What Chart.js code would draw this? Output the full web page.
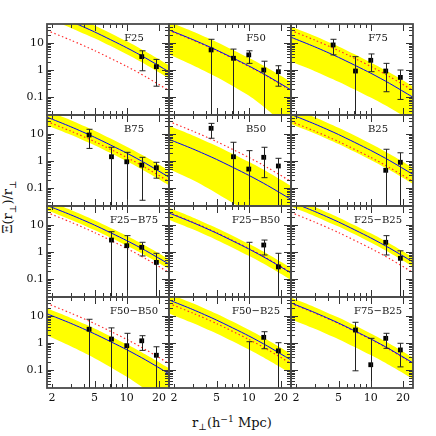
<!DOCTYPE html>
<html>
<head>
<meta charset="utf-8">
<script src="https://cdn.jsdelivr.net/npm/chart.js@4.4.0/dist/chart.umd.min.js"></script>
<style>
  html, body { margin: 0; padding: 0; background: #fff; }
  #fig { position: relative; width: 436px; height: 436px; overflow: hidden; font-family: 'DejaVu Serif', serif; color: #111; }
  #fig canvas { position: absolute; }
  .ytitle { position: absolute; left: 9px; top: 207px; transform: translate(-50%, -50%) rotate(-90deg); font-size: 13px; white-space: nowrap; }
  .xtitle { position: absolute; left: 232px; top: 423px; transform: translate(-50%, -50%); font-size: 13px; white-space: nowrap; }
  sub, sup { font-size: 70%; }
</style>
</head>
<body>
<div id="fig">
  <div class="ytitle">Ξ(r<sub>⊥</sub>)/r<sub>⊥</sub></div>
  <div class="xtitle">r<sub>⊥</sub>(h<sup>−1</sup> Mpc)</div>
</div>
<script>
const panelNames = ['F25', 'F50', 'F75', 'B75', 'B50', 'B25',
  'F25−B75', 'F25−B50', 'F25−B25', 'F50−B50', 'F50−B25', 'F75−B25'];

// model curves sampled at these separations
const xGrid = [1.8, 3, 5, 10, 15, 24.8];

const fitModel = [
  [141, 62.4, 25.5, 6.59, 2.76, 0.849],
  [30.2, 13.3, 5.44, 1.41, 0.590, 0.182],
  [16.2, 7.16, 2.92, 0.757, 0.317, 0.0975],
  [41.7, 18.4, 7.52, 1.95, 0.815, 0.251],
  [6.31, 2.79, 1.14, 0.294, 0.123, 0.0379],
  [52.5, 23.2, 9.46, 2.45, 1.03, 0.316],
  [52.5, 23.6, 9.84, 2.62, 1.12, 0.355],
  [27.5, 12.2, 4.97, 1.29, 0.538, 0.166],
  [70.8, 31.3, 12.8, 3.30, 1.38, 0.426],
  [12.0, 5.31, 2.17, 0.561, 0.235, 0.0723],
  [38.9, 17.2, 7.01, 1.82, 0.760, 0.234],
  [30.2, 13.3, 5.44, 1.41, 0.590, 0.182]
];

const bandHigh = [
  [245, 108, 44.3, 11.5, 4.80, 1.48],
  [60.3, 26.6, 10.9, 2.81, 1.18, 0.362],
  [40.7, 18.0, 7.35, 1.90, 0.796, 0.245],
  [72.4, 32.0, 13.1, 3.38, 1.42, 0.436],
  [20.0, 8.81, 3.60, 0.931, 0.390, 0.120],
  [93.3, 41.2, 16.8, 4.36, 1.82, 0.561],
  [79.4, 35.7, 14.9, 3.97, 1.69, 0.537],
  [42.7, 18.8, 7.69, 1.99, 0.834, 0.256],
  [105, 46.2, 18.9, 4.89, 2.05, 0.630],
  [19.1, 8.41, 3.44, 0.889, 0.372, 0.115],
  [66.1, 29.2, 11.9, 3.08, 1.29, 0.397],
  [47.9, 21.1, 8.63, 2.23, 0.935, 0.288]
];

const bandLow = [
  [81.3, 35.9, 14.7, 3.79, 1.59, 0.489],
  [3.80, 1.50, 0.545, 0.112, 0.0332, 0.00574],
  [2.04, 0.902, 0.368, 0.0953, 0.0399, 0.0123],
  [20.9, 9.23, 3.77, 0.975, 0.408, 0.126],
  [0.501, 0.197, 0.064, 0.0117, 0.0031, 0.00048],
  [23.4, 10.4, 4.23, 1.09, 0.458, 0.141],
  [34.7, 15.6, 6.50, 1.73, 0.740, 0.235],
  [15.5, 6.84, 2.79, 0.723, 0.303, 0.0931],
  [47.9, 21.1, 8.63, 2.23, 0.935, 0.288],
  [1.91, 0.750, 0.273, 0.0561, 0.0187, 0.00406],
  [12.3, 5.43, 2.22, 0.574, 0.240, 0.0740],
  [7.59, 3.35, 1.37, 0.354, 0.148, 0.0456]
];

// same dotted reference curve in every panel
const referenceModel = [28.8, 12.7, 5.20, 1.35, 0.564, 0.173];

const pointX = [
  [13.8, 18.9],
  [4.45, 7.2, 10.0, 13.8, 18.9],
  [4.45, 7.2, 10.0, 13.8, 18.9],
  [4.45, 7.2, 10.0, 13.8, 18.9],
  [4.45, 7.2, 10.0, 13.8, 18.9],
  [13.8, 18.9],
  [7.2, 10.0, 13.8, 18.9],
  [10.0, 13.8, 18.9],
  [13.8, 18.9],
  [4.45, 7.2, 10.0, 13.8, 18.9],
  [10.0, 13.8, 18.9],
  [7.2, 10.0, 13.8, 18.9]
];

const pointY = [
  [3.1, 1.32],
  [5.5, 2.7, 3.6, 0.99, 0.86],
  [8.4, 0.91, 2.27, 0.91, 0.53],
  [9.1, 1.43, 0.93, 0.70, 0.56],
  [16.1, 1.43, 0.5, 1.36, 0.65],
  [0.45, 0.89],
  [2.75, 1.7, 1.48, 0.41],
  [0.005, 1.8, 0.28],
  [2.27, 0.58],
  [3.2, 1.39, 0.79, 1.2, 0.35],
  [0.005, 1.61, 0.51],
  [3.0, 0.156, 1.48, 0.55]
];

const errLow = [
  [0.93, 0.25],
  [0.001, 0.001, 1.75, 0.001, 0.25],
  [3.6, 0.001, 0.86, 0.156, 0.081],
  [2.9, 0.001, 0.001, 0.035, 0.23],
  [6.9, 0.001, 0.001, 0.24, 0.001],
  [0.001, 0.001],
  [0.001, 0.001, 0.71, 0.001],
  [0.001, 0.77, 0.001],
  [0.77, 0.001],
  [0.001, 0.001, 0.001, 0.53, 0.001],
  [0.001, 0.61, 0.001],
  [0.093, 0.001, 0.63, 0.13]
];

const errHigh = [
  [5.1, 2.45],
  [13.6, 5.9, 5.1, 2.1, 1.43],
  [13.6, 3.1, 3.9, 1.75, 0.99],
  [14.8, 3.2, 2.08, 1.36, 0.89],
  [24.5, 4.9, 2.4, 3.2, 1.25],
  [2.7, 2.0],
  [5.6, 4.0, 2.27, 0.89],
  [2.27, 2.75, 0.89],
  [4.0, 1.1],
  [7.5, 3.6, 2.27, 1.85, 0.72],
  [1.11, 2.6, 1.02],
  [5.8, 1.48, 2.27, 0.97]
];

const xRange = [1.8, 24.8];
const yRange = [0.0215, 50];
const xTickLabels = [2, 5, 10, 20];
const yTickLabels = [0.1, 1, 10];
const xMajorTicks = [5, 10, 20];
const xMinorTicks = [2, 3, 4, 6, 7, 8, 9];
const yMajorTicks = [0.1, 1, 10];
const yMinorTicks = [0.03, 0.04, 0.05, 0.06, 0.07, 0.08, 0.09, 0.2, 0.3, 0.4, 0.5, 0.6, 0.7, 0.8, 0.9,
  2, 3, 4, 5, 6, 7, 8, 9, 20, 30, 40];

const colLeft = [47, 169, 291];
const rowTop = [24, 115, 206, 297];
const plotW = 122;
const plotH = 91;
const yAxisW = 47;
const xAxisH = 26;

Chart.defaults.font.family = "'DejaVu Serif', serif";
Chart.defaults.font.size = 10;
Chart.defaults.color = '#111';

const errorBars = {
  id: 'errorBars',
  afterDatasetsDraw(chart, args, opts) {
    const { ctx, chartArea: a, scales: { x, y } } = chart;
    ctx.save();
    ctx.beginPath();
    ctx.rect(a.left, a.top, a.width, a.height);
    ctx.clip();
    ctx.strokeStyle = '#222';
    ctx.lineWidth = 1;
    opts.xs.forEach((xv, k) => {
      const px = Math.round(x.getPixelForValue(xv)) + 0.5;
      const top = y.getPixelForValue(opts.hi[k]);
      const bot = y.getPixelForValue(opts.lo[k]);
      ctx.beginPath();
      ctx.moveTo(px, top);
      ctx.lineTo(px, bot);
      ctx.moveTo(px - 3, top);
      ctx.lineTo(px + 3, top);
      ctx.moveTo(px - 3, bot);
      ctx.lineTo(px + 3, bot);
      ctx.stroke();
    });
    ctx.restore();
  }
};

const frameTicks = {
  id: 'frameTicks',
  afterDraw(chart, args, opts) {
    const { ctx, chartArea: a, scales: { x, y } } = chart;
    ctx.save();
    ctx.strokeStyle = '#333';
    ctx.lineWidth = 1;
    const tick = (x0, y0, x1, y1) => {
      ctx.beginPath();
      ctx.moveTo(x0, y0);
      ctx.lineTo(x1, y1);
      ctx.stroke();
    };
    xMajorTicks.concat(xMinorTicks).forEach((v) => {
      const px = Math.round(x.getPixelForValue(v)) + 0.5;
      const len = xMajorTicks.includes(v) ? 7 : 4;
      tick(px, a.bottom, px, a.bottom - len);
      tick(px, a.top, px, a.top + len);
    });
    yMajorTicks.concat(yMinorTicks).forEach((v) => {
      const py = Math.round(y.getPixelForValue(v)) + 0.5;
      const len = yMajorTicks.includes(v) ? 7 : 4;
      tick(a.left, py, a.left + len, py);
      tick(a.right, py, a.right - len, py);
    });
    ctx.strokeStyle = '#4a4a4a';
    ctx.lineWidth = 1.8;
    ctx.strokeRect(a.left, a.top, a.width, a.height);
    ctx.fillStyle = '#111';
    ctx.font = "10px 'DejaVu Serif', serif";
    ctx.textAlign = 'center';
    ctx.textBaseline = 'middle';
    ctx.fillText(opts.label, a.left + 87, a.top + 14);
    ctx.restore();
  }
};

const fig = document.getElementById('fig');
const curve = (ys) => xGrid.map((x, k) => ({ x, y: ys[k] }));

panelNames.forEach((name, i) => {
  const col = i % 3;
  const row = Math.floor(i / 3);
  const showY = col === 0;
  const showX = row === 3;
  const left = showY ? 0 : colLeft[col] - 2;
  const top = rowTop[row] - 2;
  const width = colLeft[col] + plotW + 2 - left;
  const height = 2 + plotH + (showX ? xAxisH : 2);

  const canvas = document.createElement('canvas');
  canvas.width = width;
  canvas.height = height;
  canvas.style.left = left + 'px';
  canvas.style.top = top + 'px';
  canvas.style.width = width + 'px';
  canvas.style.height = height + 'px';
  fig.appendChild(canvas);

  const points = pointX[i].map((x, k) => ({ x, y: pointY[i][k] }));

  new Chart(canvas, {
    type: 'line',
    data: {
      datasets: [
        { data: points, showLine: false, pointStyle: 'rect', pointRadius: 3.4,
          backgroundColor: '#000', borderColor: '#000', borderWidth: 0 },
        { data: curve(fitModel[i]), borderColor: '#0000ff', borderWidth: 1,
          pointRadius: 0, tension: 0.25, fill: false },
        { data: curve(referenceModel), borderColor: '#ff2a2a', borderWidth: 1.2,
          borderDash: [1.5, 2.5], pointRadius: 0, tension: 0.25, fill: false },
        { data: curve(bandHigh[i]), borderWidth: 0, pointRadius: 0, tension: 0.25,
          backgroundColor: '#ffff00', fill: '+1' },
        { data: curve(bandLow[i]), borderWidth: 0, pointRadius: 0, tension: 0.25, fill: false }
      ]
    },
    options: {
      responsive: false,
      animation: false,
      events: [],
      layout: {
        autoPadding: false,
        padding: { left: showY ? 0 : 2, right: 2, top: 2, bottom: showX ? 0 : 2 }
      },
      scales: {
        x: {
          type: 'logarithmic',
          min: xRange[0],
          max: xRange[1],
          display: showX,
          grid: { display: false, drawTicks: false },
          border: { display: false },
          afterBuildTicks: (s) => { s.ticks = xTickLabels.map((v) => ({ value: v })); },
          afterFit: showX ? (s) => {
            s.height = xAxisH;
            s.paddingLeft = 0; s.paddingRight = 0;
          } : undefined,
          ticks: { autoSkip: false, maxRotation: 0, padding: 4,
            font: { size: 11 }, callback: (v) => String(v) }
        },
        y: {
          type: 'logarithmic',
          min: yRange[0],
          max: yRange[1],
          display: showY,
          grid: { display: false, drawTicks: false },
          border: { display: false },
          afterBuildTicks: (s) => { s.ticks = yTickLabels.map((v) => ({ value: v })); },
          afterFit: showY ? (s) => {
            s.width = yAxisW;
            s.paddingTop = 0; s.paddingBottom = 0;
          } : undefined,
          ticks: { autoSkip: false, padding: 3, font: { size: 11 },
            callback: (v) => String(v) }
        }
      },
      plugins: {
        legend: { display: false },
        tooltip: { enabled: false },
        errorBars: { xs: pointX[i], lo: errLow[i], hi: errHigh[i] },
        frameTicks: { label: name }
      }
    },
    plugins: [errorBars, frameTicks]
  });
});
</script>
</body>
</html>
